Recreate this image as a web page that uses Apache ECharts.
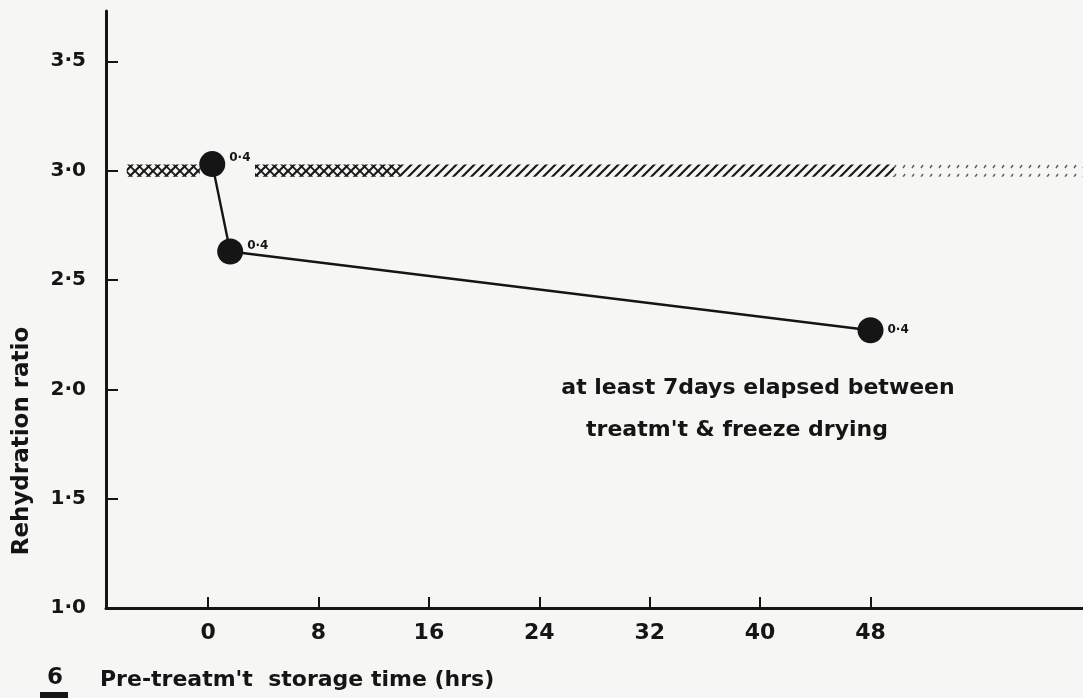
<!DOCTYPE html>
<html>
<head>
<meta charset="utf-8">
<script src="https://cdn.jsdelivr.net/npm/echarts@6/dist/echarts.min.js"></script>
<style>
html,body{margin:0;padding:0;background:#f6f6f4;}
#chart{width:1083px;height:698px;}
</style>
</head>
<body>
<div id="chart"></div>
<script>
// ---- data ----
const storageHours = [0.3, 1.6, 48];
const rehydrationRatio = [3.03, 2.63, 2.27];
const pointLabels = ['0·4', '0·4', '0·4'];
const xTicks = [0, 8, 16, 24, 32, 40, 48];
const yTicks = [1.0, 1.5, 2.0, 2.5, 3.0, 3.5];
const controlLevel = 3.0;
const controlHalfWidth = 0.028;
const bandStarts = [-5.9, 3.4, 13.9, 49.7];
const bandEnds = [-0.6, 13.9, 49.7, 63.4];
const bandStyles = ['cross', 'cross', 'diag', 'dots'];
const noteLines = ['at least 7days elapsed between', "treatm't & freeze drying"];
const yAxisTitle = 'Rehydration ratio';
const xAxisTitle = "Pre-treatm't  storage time (hrs)";
const figNumber = '6';

const FONT = '"DejaVu Sans", "Liberation Sans", Arial, sans-serif';
const INK = '#151515';

function makePattern(kind) {
  const c = document.createElement('canvas');
  const s = 9;
  c.width = s; c.height = s;
  const ctx = c.getContext('2d');
  ctx.lineCap = 'butt';
  if (kind === 'dots') {
    ctx.strokeStyle = 'rgba(40,40,40,0.75)';
    ctx.lineWidth = 1.4;
    ctx.beginPath();
    ctx.moveTo(3, 6); ctx.lineTo(5, 3);
    ctx.stroke();
  } else {
    ctx.strokeStyle = '#1a1a1a';
    ctx.lineWidth = 2.2;
    ctx.beginPath();
    ctx.moveTo(-1, s + 1); ctx.lineTo(s + 1, -1);
    ctx.moveTo(-1, 1); ctx.lineTo(1, -1);
    ctx.moveTo(s - 1, s + 1); ctx.lineTo(s + 1, s - 1);
    ctx.stroke();
    if (kind === 'cross') {
      ctx.lineWidth = 1.8;
      ctx.beginPath();
      ctx.moveTo(-1, -1); ctx.lineTo(s + 1, s + 1);
      ctx.moveTo(s - 1, -1); ctx.lineTo(s + 1, 1);
      ctx.moveTo(-1, s - 1); ctx.lineTo(1, s + 1);
      ctx.stroke();
    }
  }
  return { image: c, repeat: 'repeat' };
}

const bandAreas = bandStarts.map((x0, i) => [
  { xAxis: x0, yAxis: controlLevel - controlHalfWidth, itemStyle: { color: makePattern(bandStyles[i]) } },
  { xAxis: bandEnds[i], yAxis: controlLevel + controlHalfWidth }
]);

const chart = echarts.init(document.getElementById('chart'), null, { renderer: 'canvas' });

chart.setOption({
  backgroundColor: '#f6f6f4',
  animation: false,
  grid: { left: 106, right: 0, top: 11, bottom: 90 },
  xAxis: {
    type: 'value',
    min: -7.4,
    max: 63.4,
    axisLine: { show: true, onZero: false, lineStyle: { color: INK, width: 3 } },
    axisTick: { show: true, inside: true, length: 11, lineStyle: { color: INK, width: 2 }, customValues: xTicks },
    axisLabel: {
      customValues: xTicks,
      margin: 14,
      color: INK,
      fontFamily: FONT,
      fontWeight: 'bold',
      fontSize: 22
    },
    splitLine: { show: false }
  },
  yAxis: {
    type: 'value',
    min: 1.0,
    max: 3.73,
    axisLine: { show: true, onZero: false, lineStyle: { color: INK, width: 3 } },
    axisTick: { show: true, inside: true, length: 12, lineStyle: { color: INK, width: 2 }, customValues: yTicks.slice(1) },
    axisLabel: {
      customValues: yTicks,
      margin: 20,
      color: INK,
      fontFamily: FONT,
      fontWeight: 'bold',
      fontSize: 20,
      formatter: v => v.toFixed(1).replace('.', '·')
    },
    splitLine: { show: false }
  },
  series: [
    {
      type: 'line',
      data: [],
      z: 1,
      silent: true,
      markArea: { silent: true, data: bandAreas }
    },
    {
      type: 'line',
      z: 5,
      data: storageHours.map((x, i) => [x, rehydrationRatio[i]]),
      symbol: 'circle',
      symbolSize: 26,
      itemStyle: { color: INK },
      lineStyle: { color: INK, width: 2.4 },
      label: {
        show: true,
        position: 'right',
        distance: 4,
        color: INK,
        fontFamily: FONT,
        fontWeight: 'bold',
        fontSize: 12,
        formatter: p => pointLabels[p.dataIndex]
      },
      labelLayout: p => (p.dataIndex < 2 ? { dy: -6 } : {})
    }
  ],
  graphic: [
    {
      type: 'text',
      style: {
        text: noteLines[0],
        x: 758, y: 388,
        align: 'center', verticalAlign: 'middle',
        font: 'bold 22px ' + FONT,
        fill: INK
      }
    },
    {
      type: 'text',
      style: {
        text: noteLines[1],
        x: 737, y: 430,
        align: 'center', verticalAlign: 'middle',
        font: 'bold 22px ' + FONT,
        fill: INK
      }
    },
    {
      type: 'text',
      x: 22, y: 441,
      rotation: Math.PI / 2,
      style: {
        text: yAxisTitle,
        x: 0, y: 0,
        align: 'center', verticalAlign: 'middle',
        font: 'bold 23px ' + FONT,
        fill: INK
      }
    },
    {
      type: 'text',
      style: {
        text: xAxisTitle,
        x: 100, y: 680,
        align: 'left', verticalAlign: 'middle',
        font: 'bold 22px ' + FONT,
        fill: INK
      }
    },
    {
      type: 'text',
      style: {
        text: figNumber,
        x: 55, y: 678,
        align: 'center', verticalAlign: 'middle',
        font: 'bold 23px ' + FONT,
        fill: INK
      }
    },
    {
      type: 'rect',
      shape: { x: 40, y: 692, width: 28, height: 6 },
      style: { fill: INK }
    }
  ]
});
</script>
</body>
</html>
